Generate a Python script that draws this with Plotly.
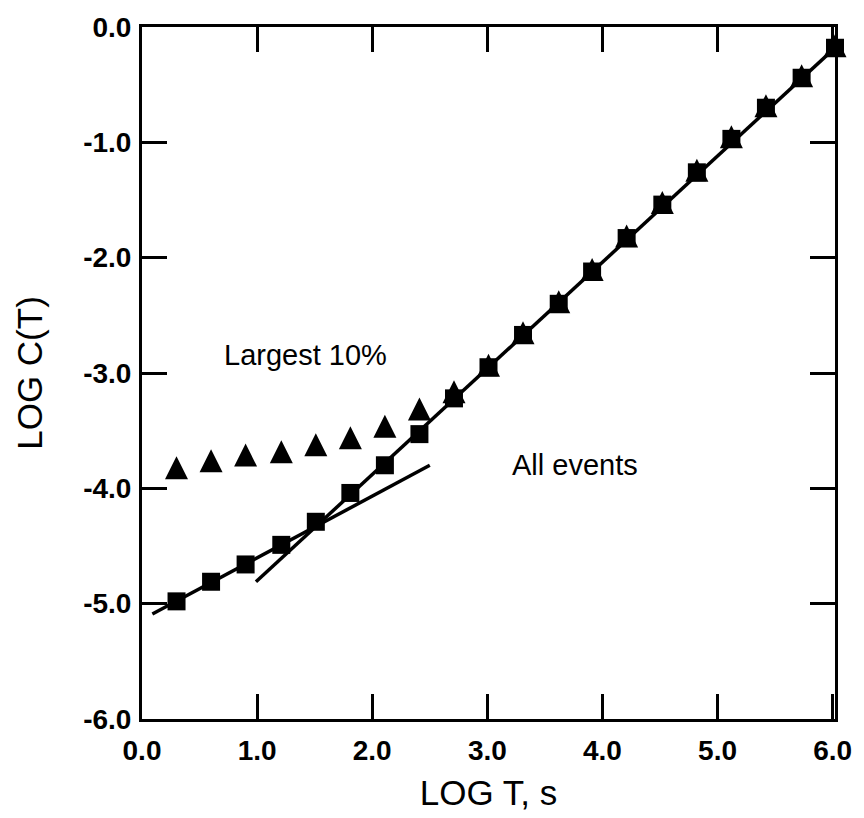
import plotly.graph_objects as go

# log10 of the window length T (s)
log_t = [0.30, 0.60, 0.90, 1.21, 1.51, 1.81, 2.11, 2.41, 2.71, 3.01,
         3.31, 3.62, 3.91, 4.21, 4.52, 4.82, 5.12, 5.42, 5.73, 6.02]

# log10 C(T) for all events (squares)
all_events = [-4.98, -4.81, -4.66, -4.49, -4.29, -4.04, -3.80, -3.53, -3.22, -2.95,
              -2.67, -2.40, -2.12, -1.83, -1.54, -1.26, -0.97, -0.70, -0.44, -0.18]

# log10 C(T) for the largest 10% of events (triangles)
largest_10 = [-3.82, -3.76, -3.71, -3.68, -3.62, -3.56, -3.46, -3.31, -3.16, -2.93,
              -2.65, -2.38, -2.10, -1.81, -1.52, -1.24, -0.95, -0.68, -0.42, -0.16]

# straight-line fits: short-time and long-time scaling regimes
fit_short_x = [0.09, 2.50]
fit_short_y = [-5.09, -3.80]
fit_long_x = [0.99, 6.02]
fit_long_y = [-4.81, -0.18]

x_ticks = [0, 1, 2, 3, 4, 5, 6]
x_labels = ["0.0", "1.0", "2.0", "3.0", "4.0", "5.0", "6.0"]
y_ticks = [0, -1, -2, -3, -4, -5, -6]
y_labels = ["0.0", "-1.0", "-2.0", "-3.0", "-4.0", "-5.0", "-6.0"]

FONT = "Liberation Sans, Arial, sans-serif"
Y_RANGE = [-6, 0]
PLOT_H = 818 - 18 - 95          # plot-area height in px
TRI = 23                        # triangle marker size in px
# 'arrow-up' has its tip on the data point; a twin y-axis raised by half the
# marker height centres the glyph on the value instead.
tri_shift = (TRI / 2) * (Y_RANGE[1] - Y_RANGE[0]) / PLOT_H

fig = go.Figure()

fig.add_trace(go.Scatter(
    x=log_t, y=largest_10, mode="markers", cliponaxis=False, yaxis="y2",
    marker=dict(symbol="arrow-up", size=TRI, color="black", line=dict(width=0)),
    name="Largest 10%"))

fig.add_trace(go.Scatter(
    x=fit_short_x, y=fit_short_y, mode="lines",
    line=dict(color="black", width=3.5), name="short-T fit"))

fig.add_trace(go.Scatter(
    x=fit_long_x, y=fit_long_y, mode="lines", cliponaxis=False,
    line=dict(color="black", width=3.5), name="long-T fit"))

fig.add_trace(go.Scatter(
    x=log_t, y=all_events, mode="markers", cliponaxis=False,
    marker=dict(symbol="square", size=18, color="black", line=dict(width=0)),
    name="All events"))

axis_common = dict(
    showline=True, linecolor="black", linewidth=3, mirror="ticks",
    ticks="inside", ticklen=25, tickwidth=3, tickcolor="black",
    showgrid=False, zeroline=False,
    tickfont=dict(family=FONT, size=28, color="black", weight="bold"),
)

fig.update_layout(
    xaxis=dict(
        range=[0, 6.02], tickvals=x_ticks, ticktext=x_labels, **axis_common,
        ticklabelstandoff=4,
        title=dict(text="LOG T, s", font=dict(family=FONT, size=35, color="black"),
                   standoff=16),
    ),
    yaxis=dict(
        range=Y_RANGE, tickvals=y_ticks, ticktext=y_labels, **axis_common,
        ticklabelstandoff=2,
        title=dict(text="LOG C(T)", font=dict(family=FONT, size=35, color="black"),
                   standoff=30),
    ),
    yaxis2=dict(
        overlaying="y", visible=False,
        range=[Y_RANGE[0] - tri_shift, Y_RANGE[1] - tri_shift],
    ),
)

fig.add_annotation(x=1.42, y=-2.84, text="Largest 10%", showarrow=False,
                   font=dict(family=FONT, size=29, color="black"))
fig.add_annotation(x=3.76, y=-3.80, text="All events", showarrow=False,
                   font=dict(family=FONT, size=29, color="black"))

fig.update_layout(
    width=864, height=818,
    margin=dict(l=142, r=20, t=18, b=95),
    plot_bgcolor="white", paper_bgcolor="white",
    showlegend=False,
)

fig.write_html("out.html")
